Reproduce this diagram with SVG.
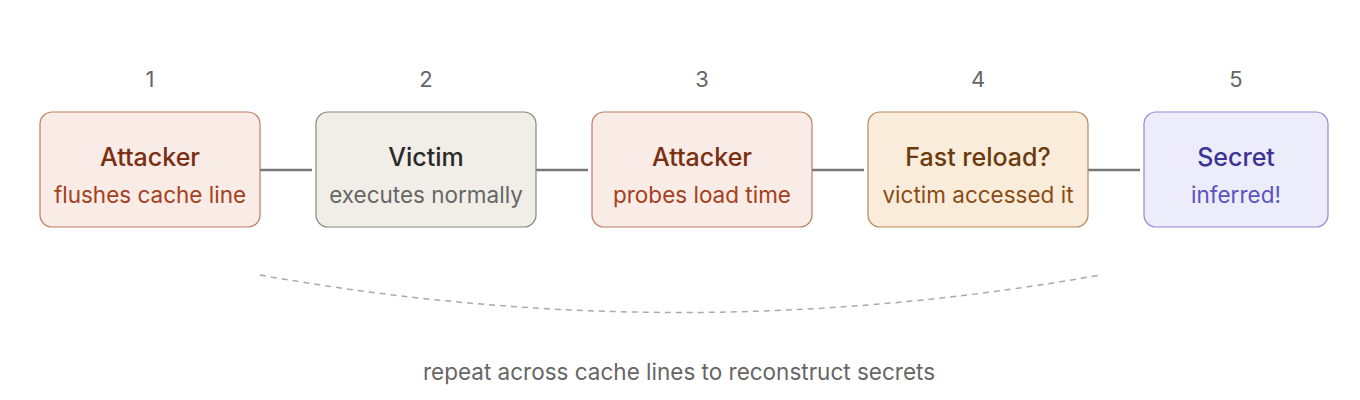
<svg xmlns="http://www.w3.org/2000/svg" width="1360" height="400" viewBox="0 0 1360 400">
<style>
text{font-family:Inter,"Noto Sans",sans-serif;text-anchor:middle}
.n{font-size:22px;fill:#666}
.t{font-size:25px;font-weight:500}
.s{font-size:22.5px}
.c{stroke:#777;stroke-width:2.5;fill:none}
rect{stroke-width:1.2}
</style>
<rect width="1360" height="400" fill="#fff"/>
<g id="connectors">
<line class="c" x1="260" y1="170" x2="312" y2="170"/>
<line class="c" x1="536" y1="170" x2="588" y2="170"/>
<line class="c" x1="812" y1="170" x2="864" y2="170"/>
<line class="c" x1="1088" y1="170" x2="1140" y2="170"/>
<path d="M260 275 Q680 350 1100 275" fill="none" stroke="#aaa" stroke-width="1.5" stroke-dasharray="6 5"/>
</g>
<g id="n1"><text class="n" x="150" y="87">1</text><rect x="40" y="112" width="220" height="115" rx="12" fill="#f9ebe5" stroke="#c07a62"/><text class="t" x="150" y="166" fill="#7a2e12">Attacker</text><text class="s" x="150" y="203" fill="#a5401c">flushes cache line</text></g>
<g id="n2"><text class="n" x="426" y="87">2</text><rect x="316" y="112" width="220" height="115" rx="12" fill="#f1eee7" stroke="#8a8780"/><text class="t" x="426" y="166" fill="#2a2a2a">Victim</text><text class="s" x="426" y="203" fill="#666">executes normally</text></g>
<g id="n3"><text class="n" x="702" y="87">3</text><rect x="592" y="112" width="220" height="115" rx="12" fill="#f9ebe5" stroke="#c07a62"/><text class="t" x="702" y="166" fill="#7a2e12">Attacker</text><text class="s" x="702" y="203" fill="#a5401c">probes load time</text></g>
<g id="n4"><text class="n" x="978" y="87">4</text><rect x="868" y="112" width="220" height="115" rx="12" fill="#f9ecda" stroke="#b8875a"/><text class="t" x="978" y="166" fill="#6b3a0e">Fast reload?</text><text class="s" x="978" y="203" fill="#8a4c14">victim accessed it</text></g>
<g id="n5"><text class="n" x="1236" y="87">5</text><rect x="1144" y="112" width="184" height="115" rx="12" fill="#edecfb" stroke="#8f8ad8"/><text class="t" x="1236" y="166" fill="#3b3496">Secret</text><text class="s" x="1236" y="203" fill="#5a52c0">inferred!</text></g>
<text x="679" y="380" font-size="22.5" fill="#666">repeat across cache lines to reconstruct secrets</text>
</svg>
